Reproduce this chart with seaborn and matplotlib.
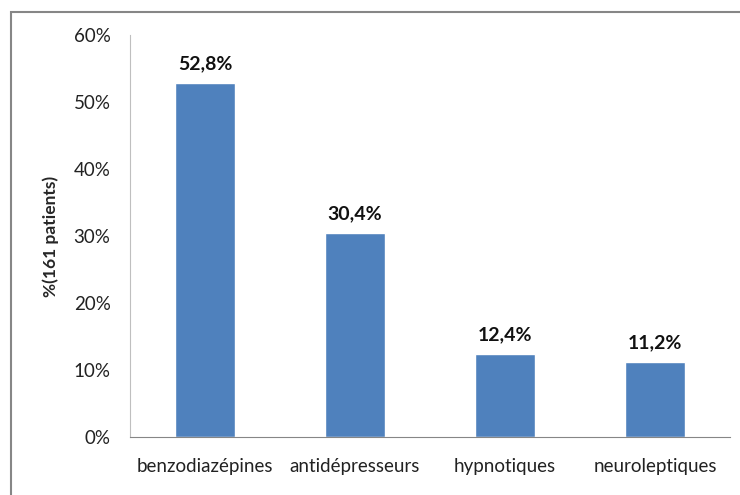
import matplotlib
matplotlib.use("Agg")
import matplotlib.pyplot as plt
import seaborn as sns
import pandas as pd
from matplotlib.patches import Rectangle
from matplotlib.ticker import PercentFormatter, MultipleLocator

categories = ["benzodiazépines", "antidépresseurs", "hypnotiques", "neuroleptiques"]
values = [52.8, 30.4, 12.4, 11.2]
value_labels = ["52,8%", "30,4%", "12,4%", "11,2%"]

sns.set_style("white")
plt.rcParams["font.family"] = ["Lato", "DejaVu Sans"]

df = pd.DataFrame({"cat": categories, "val": values})

fig = plt.figure(figsize=(7.4, 4.95), dpi=100)
ax = fig.add_axes([130 / 740, 58 / 495, 600 / 740, 402 / 495])

sns.barplot(data=df, x="cat", y="val", color="#4F81BD", saturation=1,
            width=0.4, ax=ax)

ax.set_ylim(0, 60)
ax.yaxis.set_major_locator(MultipleLocator(10))
ax.yaxis.set_major_formatter(PercentFormatter(decimals=0))
ax.set_xlabel("")
ax.set_ylabel("%(161 patients)", fontsize=12.5, fontweight="bold")
ax.yaxis.set_label_coords(-0.118, 0.5)
ax.tick_params(axis="both", length=0, labelsize=13.5, colors="#222222")
ax.tick_params(axis="y", pad=14)
ax.tick_params(axis="x", pad=15)

for p, lab in zip(ax.patches, value_labels):
    ax.annotate(lab, (p.get_x() + p.get_width() / 2, p.get_height()),
                xytext=(0, 8), textcoords="offset points",
                ha="center", va="bottom", fontsize=14, fontweight="bold",
                color="#111111")

for s in ["top", "right"]:
    ax.spines[s].set_visible(False)
ax.spines["left"].set_color("#BFBFBF")
ax.spines["bottom"].set_color("#868686")

fig.patches.append(Rectangle((11 / 740, -0.1), 1.2, (495 - 12) / 495 + 0.1,
                             transform=fig.transFigure, fill=False,
                             edgecolor="#868686", linewidth=1.5))

fig.savefig("out.png", dpi=100)
